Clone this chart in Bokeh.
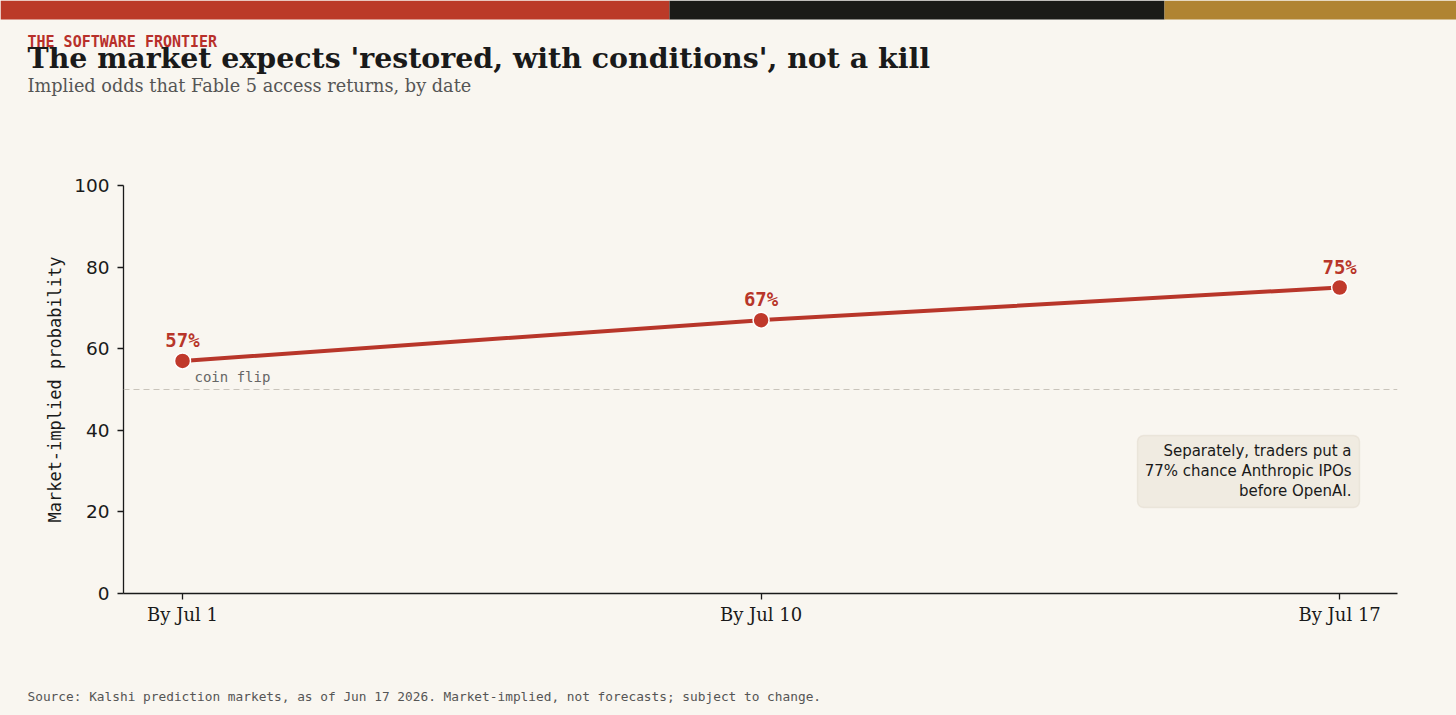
import re
from bokeh.plotting import figure
from bokeh.models import Label, BoxAnnotation, Span, Range1d, FixedTicker, ColumnDataSource
from bokeh.embed import file_html
from bokeh.resources import INLINE

# ---- data ----
dates = ["By Jul 1", "By Jul 10", "By Jul 17"]
probs = [57, 67, 75]
coin_flip = 50
y_ticks = [0, 20, 40, 60, 80, 100]
kicker = "THE SOFTWARE FRONTIER"
title = "The market expects 'restored, with conditions', not a kill"
subtitle = "Implied odds that Fable 5 access returns, by date"
note_lines = ["Separately, traders put a", "77% chance Anthropic IPOs", "before OpenAI."]
source = "Source: Kalshi prediction markets, as of Jun 17 2026. Market-implied, not forecasts; subject to change."
band_colors = ["#bb3a28", "#1b1b17", "#b08432"]
band_edges = [0, 669, 1164, 1456]

# ---- style ----
BG = "#f9f6f0"
RED = "#b8362a"
INK = "#1a1a1a"
W, H = 1456, 715
HEAD_H, FOOT_H = 150, 60
MAIN_H = H - HEAD_H - FOOT_H
FL, FR, FT, FB = 123, 1397, 185, 593  # frame edges in page px


def blank(h):
    f = figure(width=W, height=h, output_backend="svg", toolbar_location=None,
               x_range=Range1d(0, W), y_range=Range1d(h, 0),
               x_axis_type=None, y_axis_type=None,
               background_fill_color=BG, border_fill_color=BG)
    f.min_border = 0
    f.outline_line_color = None
    f.grid.visible = False
    f.styles = {"background-color": BG}
    return f


# ---- header ----
head = blank(HEAD_H)
for c, l, r in zip(band_colors, band_edges[:-1], band_edges[1:]):
    head.add_layout(BoxAnnotation(left=l, right=r, top=0, bottom=19, fill_color=c,
                                  fill_alpha=1, line_color=None))
head.add_layout(Label(x=27, y=41, text=kicker, text_font="DejaVu Sans Mono",
                      text_font_style="bold", text_font_size="15px", text_color="#b8302a",
                      text_baseline="alphabetic"))
head.add_layout(Label(x=27, y=57, text=title, text_font="DejaVu Serif",
                      text_font_style="bold", text_font_size="28.4px", text_color=INK,
                      text_baseline="alphabetic"))
head.add_layout(Label(x=27, y=85, text=subtitle, text_font="DejaVu Serif",
                      text_font_size="17.7px", text_color="#555555", text_baseline="alphabetic"))

# ---- main chart ----
xs = list(range(len(dates)))
p = figure(width=W, height=MAIN_H, output_backend="svg", toolbar_location=None,
           x_range=Range1d(-0.102, 2.1), y_range=Range1d(0, 100),
           background_fill_color=BG, border_fill_color=BG)
p.styles = {"background-color": BG}
p.min_border = 0
p.min_border_left = FL
p.min_border_right = W - FR
p.min_border_top = FT - HEAD_H
p.min_border_bottom = (H - FOOT_H) - FB
p.outline_line_color = None
p.grid.visible = False

p.xaxis.ticker = FixedTicker(ticks=xs)
p.xaxis.major_label_overrides = {i: d for i, d in enumerate(dates)}
p.yaxis.ticker = FixedTicker(ticks=y_ticks)
for ax in (p.xaxis, p.yaxis):
    ax.axis_line_color = INK
    ax.axis_line_width = 1.3
    ax.major_tick_line_color = INK
    ax.major_tick_line_width = 1.3
    ax.major_tick_out = 6
    ax.major_tick_in = 0
    ax.minor_tick_line_color = None
    ax.major_label_text_color = INK
p.xaxis.major_label_standoff = 4
p.yaxis.major_label_standoff = 8
p.xaxis.major_label_text_font = "DejaVu Serif"
p.xaxis.major_label_text_font_size = "18px"
p.yaxis.major_label_text_font = "DejaVu Sans"
p.yaxis.major_label_text_font_size = "18.5px"
p.yaxis.axis_label = "Market-implied probability"
p.yaxis.axis_label_text_font = "DejaVu Sans Mono"
p.yaxis.axis_label_text_font_size = "17px"
p.yaxis.axis_label_text_font_style = "normal"
p.yaxis.axis_label_text_color = INK
p.yaxis.axis_label_standoff = 6

# coin flip reference
p.add_layout(Span(location=coin_flip, dimension="width", line_color="#c9c4bb",
                  line_width=1.2, line_dash="6 4"))
p.add_layout(Label(x=xs[0], y=coin_flip, x_offset=12, y_offset=13, text="coin flip",
                   text_font="DejaVu Sans Mono", text_font_size="14px",
                   text_color="#666666", text_baseline="alphabetic"))

# series
src = ColumnDataSource(dict(x=xs, y=probs, lab=[f"{v}%" for v in probs]))
p.line("x", "y", source=src, line_color=RED, line_width=4)
p.scatter("x", "y", source=src, size=16, fill_color="#c0392b", line_color="white", line_width=1.5)
p.text("x", "y", text="lab", source=src, text_align="center", text_baseline="alphabetic",
       y_offset=-21, text_font={"value": "DejaVu Sans Mono"}, text_font_style="bold",
       text_font_size="19px", text_color=RED)


def sx(px):
    return px - FL


def sy(py):
    return FB - py


# note box
p.add_layout(BoxAnnotation(left=sx(1137), right=sx(1359), top=sy(435), bottom=sy(507),
                           left_units="screen", right_units="screen",
                           top_units="screen", bottom_units="screen",
                           fill_color="#f0ebe1", fill_alpha=1, line_color="#d3c9b8",
                           line_width=1.4, border_radius=6))
for i, line in enumerate(note_lines):
    p.add_layout(Label(x=sx(1351), y=sy(450 + 20 * i), x_units="screen", y_units="screen",
                       text=line, text_align="right", text_baseline="alphabetic",
                       text_font="DejaVu Sans", text_font_size="15px", text_color=INK))

# ---- footer ----
foot = blank(FOOT_H)
foot.add_layout(Label(x=27, y=696 - (H - FOOT_H), text=source, text_font="DejaVu Sans Mono",
                      text_font_size="12.8px", text_color="#555555", text_baseline="alphabetic"))

html = file_html([head, p, foot], INLINE)
html = re.sub(r"<body[^>]*>", f'<body style="margin:0;background:{BG}">', html, count=1)
html = html.replace("</head>", f"<style>html,body{{background:{BG};margin:0}}</style></head>", 1)
open("out.html", "w").write(html)
